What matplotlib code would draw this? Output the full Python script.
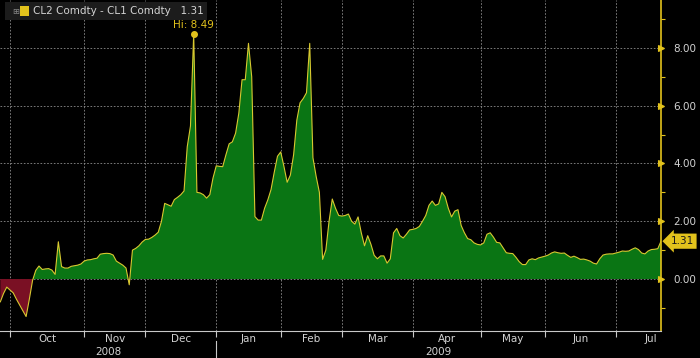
"""
    CL2 - CL1 calendar spread, Bloomberg style area chart
"""

import numpy as np
import matplotlib
matplotlib.use("Agg")
import matplotlib.pyplot as plt
import matplotlib.transforms as mtransforms

#####################################################################################################

TITLE = "CL2 Comdty - CL1 Comdty"
LAST = 1.31
HIGH = 8.49

# trading days per month (first entry = last days of Sep 2008)
months = ["Sep", "Oct", "Nov", "Dec", "Jan", "Feb", "Mar", "Apr", "May", "Jun", "Jul"]
month_days = [3, 23, 19, 22, 20, 19, 22, 21, 20, 22, 22]
years = ["2008", "2009"]

# daily spread values
spread = [
    -0.79, -0.50, -0.28, -0.38, -0.48, -0.70, -0.90, -1.10, -1.30, -0.70,
    -0.05, 0.30, 0.45, 0.33, 0.35, 0.36, 0.31, 0.16, 1.29, 0.43,
    0.38, 0.38, 0.44, 0.46, 0.48, 0.52, 0.62, 0.66, 0.67, 0.70,
    0.72, 0.86, 0.88, 0.89, 0.88, 0.83, 0.62, 0.55, 0.48, 0.38,
    -0.20, 1.00, 1.06, 1.15, 1.28, 1.37, 1.38, 1.44, 1.52, 1.62,
    2.00, 2.62, 2.57, 2.52, 2.75, 2.83, 2.92, 3.05, 4.58, 5.30,
    8.49, 3.00, 2.98, 2.92, 2.80, 2.92, 3.50, 3.92, 3.90, 3.89,
    4.30, 4.68, 4.75, 5.05, 5.74, 6.90, 6.90, 8.16, 7.00, 2.16,
    2.04, 2.04, 2.45, 2.74, 3.10, 3.70, 4.25, 4.40, 3.90, 3.35,
    3.60, 4.30, 5.50, 6.10, 6.25, 6.45, 8.16, 4.20, 3.55, 3.00,
    0.68, 1.00, 2.00, 2.77, 2.45, 2.20, 2.18, 2.20, 2.25, 2.00,
    1.90, 2.15, 1.60, 1.15, 1.50, 1.20, 0.82, 0.70, 0.80, 0.80,
    0.55, 0.70, 1.60, 1.75, 1.50, 1.42, 1.55, 1.70, 1.72, 1.75,
    1.82, 2.00, 2.20, 2.55, 2.70, 2.55, 2.60, 3.00, 2.85, 2.45,
    2.15, 2.35, 2.40, 1.85, 1.60, 1.40, 1.36, 1.25, 1.20, 1.18,
    1.25, 1.55, 1.60, 1.45, 1.27, 1.25, 1.08, 0.91, 0.89, 0.88,
    0.75, 0.60, 0.50, 0.50, 0.66, 0.70, 0.67, 0.73, 0.76, 0.79,
    0.83, 0.90, 0.94, 0.91, 0.89, 0.90, 0.82, 0.75, 0.79, 0.74,
    0.68, 0.69, 0.66, 0.62, 0.55, 0.52, 0.70, 0.83, 0.86, 0.87,
    0.87, 0.90, 0.93, 0.97, 0.96, 0.97, 1.03, 1.08, 1.02, 0.90,
    0.87, 0.97, 1.02, 1.03, 1.05, 1.31,
]

#####################################################################################################

GREEN = "#0a7514"
RED = "#7a1024"
YELLOW = "#e2c21c"
LINE = "#d8c830"
TXT = "#d2d2d2"
GRID = "#8c8c8c"

y = np.array(spread)
x = np.arange(len(y))

starts = np.concatenate(([0], np.cumsum(month_days)[:-1]))
centers = starts + np.array(month_days) / 2.0

fig = plt.figure(figsize=(7.0, 3.58), dpi=100, facecolor="black")
ax = fig.add_axes([0.0, 0.0754, 0.9443, 0.9246], facecolor="black")

ax.fill_between(x, y, 0, where=y >= 0, interpolate=True, color=GREEN, lw=0)
ax.fill_between(x, y, 0, where=y <= 0, interpolate=True, color=RED, lw=0)
ax.plot(x, y, color=LINE, lw=0.8)

# high marker
i_hi = int(np.argmax(y))
ax.plot(x[i_hi], y[i_hi], "o", color=YELLOW, ms=4, clip_on=False)
ax.annotate("Hi: {:.2f}".format(HIGH), (x[i_hi], y[i_hi]), xytext=(0, 3),
            textcoords="offset points", ha="center", va="bottom", color=YELLOW, fontsize=7.5)

ax.set_xlim(-0.1, len(y) - 1)
ax.set_ylim(-1.80, 9.66)

# grid
for s in starts[1:]:
    ax.axvline(s, color=GRID, lw=0.6, ls=(0, (2, 2)), zorder=0.5)
for v in [0, 2, 4, 6, 8]:
    ax.axhline(v, color=GRID, lw=0.6, ls=(0, (2, 2)), zorder=0.5)

# spines
for side in ["top", "left"]:
    ax.spines[side].set_visible(False)
ax.spines["right"].set_color(YELLOW)
ax.spines["right"].set_linewidth(1.2)
ax.spines["bottom"].set_color("#c8c8c8")
ax.spines["bottom"].set_linewidth(0.8)

# y axis on the right
ax.yaxis.tick_right()
ax.set_yticks([0, 2, 4, 6, 8])
ax.set_yticklabels(["{:.2f}".format(v) for v in [0, 2, 4, 6, 8]], color=TXT, fontsize=7.5)
ax.set_yticks([-1, 1, 3, 5, 7, 9], minor=True)
ax.tick_params(axis="y", which="major", length=0, pad=9)
ax.tick_params(axis="y", which="minor", length=3, width=0.8, color=YELLOW)
ax.tick_params(axis="y", which="both", left=False)
for t in ax.yaxis.get_major_ticks():
    t.tick2line.set_marker(">")
    t.tick2line.set_markersize(4)
    t.tick2line.set_markerfacecolor(YELLOW)
    t.tick2line.set_markeredgecolor(YELLOW)

# x axis: month boundaries as ticks, month names centred
ax.set_xticks(starts[1:])
ax.set_xticklabels([])
ax.tick_params(axis="x", which="major", length=4, color="#c8c8c8", width=0.8)
ax.set_xticks(centers[1:], minor=True)
ax.set_xticklabels(months[1:], minor=True, color=TXT, fontsize=7.5)
ax.tick_params(axis="x", which="minor", length=0, pad=2)

# year row
trans = mtransforms.blended_transform_factory(ax.transData, ax.transAxes)
jan = starts[months.index("Jan")]
ax.text((0 + jan) / 2.0, -0.048, years[0], transform=trans, ha="center", va="top",
        color=TXT, fontsize=7.5)
ax.text((jan + len(y) - 1) / 2.0, -0.048, years[1], transform=trans, ha="center", va="top",
        color=TXT, fontsize=7.5)
ax.plot([jan, jan], [-0.03, -0.09], transform=trans, color="#c8c8c8", lw=0.8, clip_on=False)

# last value tag
ax.annotate("{:.2f}".format(LAST), xy=(1.0, LAST),
            xycoords=mtransforms.blended_transform_factory(ax.transAxes, ax.transData),
            xytext=(7, 0), textcoords="offset points", ha="left", va="center",
            color="#1a1a1a", fontsize=7.5,
            bbox=dict(boxstyle="larrow,pad=0.25", fc=YELLOW, ec="none"))

# legend box
fig.patches.append(plt.Rectangle((0.007, 0.944), 0.288, 0.05, transform=fig.transFigure,
                                 facecolor="#1c1c1c", edgecolor="none", zorder=0))
fig.text(0.017, 0.969, "\u229e", color="#888888", fontsize=6, va="center", ha="left")
fig.patches.append(plt.Rectangle((0.028, 0.955), 0.013, 0.028, transform=fig.transFigure,
                                 facecolor=YELLOW, edgecolor="none"))
fig.text(0.047, 0.969, "{}   {:.2f}".format(TITLE, LAST), color=TXT, fontsize=7.5,
         va="center", ha="left")

plt.savefig("out.png", dpi=100, facecolor="black")
